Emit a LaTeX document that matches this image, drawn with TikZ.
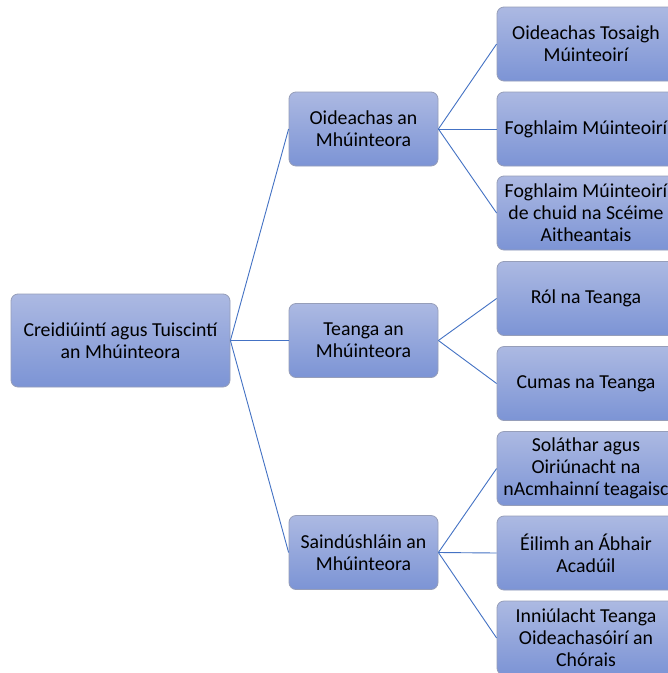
\documentclass[tikz,border=0pt]{standalone}
\usepackage{fontspec}
\setmainfont{Carlito}
\begin{document}
\definecolor{boxtop}{RGB}{172,185,226}
\definecolor{boxbot}{RGB}{124,148,213}
\definecolor{boxedge}{RGB}{150,158,185}
\definecolor{linkblue}{RGB}{68,114,196}
\begin{tikzpicture}[x=1pt,y=-1pt,
  box/.style={draw=boxedge, line width=0.8pt, rounded corners=7pt,
    top color=boxtop, bottom color=boxbot, align=center,
    font=\fontsize{19.8}{22}\selectfont, text=black, inner sep=1pt},
  rootbox/.style={box, minimum width=219pt, minimum height=93pt},
  midbox/.style={box, minimum width=149pt, minimum height=74pt},
  leafbox/.style={box, minimum width=178pt, minimum height=74pt},
  link/.style={draw=linkblue, line width=0.9pt}]
\useasboundingbox (0,0) rectangle (668,673);
\clip (0,0) rectangle (668,673);
\fill[white] (0,0) rectangle (668,673);

% root
\node[rootbox] (root) at (120.5,340.5) {Creidiúintí agus Tuiscintí\\an Mhúinteora};

% second level
\node[midbox] (m1) at (363.5,129) {Oideachas an\\Mhúinteora};
\node[midbox] (m2) at (363.5,340.5) {Teanga an\\Mhúinteora};
\node[midbox] (m3) at (363.5,552.5) {Saindúshláin an\\Mhúinteora};

% third level
\node[leafbox] (l1) at (586,44) {Oideachas Tosaigh\\Múinteoirí};
\node[leafbox] (l2) at (586,129) {Foghlaim Múinteoirí};
\node[leafbox] (l3) at (586,213) {Foghlaim Múinteoirí\\de chuid na Scéime\\Aitheantais};
\node[leafbox] (l4) at (586,298.5) {Ról na Teanga};
\node[leafbox] (l5) at (586,383.5) {Cumas na Teanga};
\node[leafbox] (l6) at (586,468.5) {Soláthar agus\\Oiriúnacht na\\nAcmhainní teagaisc};
\node[leafbox] (l7) at (586,553) {Éilimh an Ábhair\\Acadúil};
\node[leafbox] (l8) at (586,638) {Inniúlacht Teanga\\Oideachasóirí an\\Chórais};

% connectors
\foreach \m in {m1,m2,m3} \draw[link] (root.east) -- (\m.west);
\foreach \l in {l1,l2,l3} \draw[link] (m1.east) -- (\l.west);
\foreach \l in {l4,l5} \draw[link] (m2.east) -- (\l.west);
\foreach \l in {l6,l7,l8} \draw[link] (m3.east) -- (\l.west);
\end{tikzpicture}
\end{document}
